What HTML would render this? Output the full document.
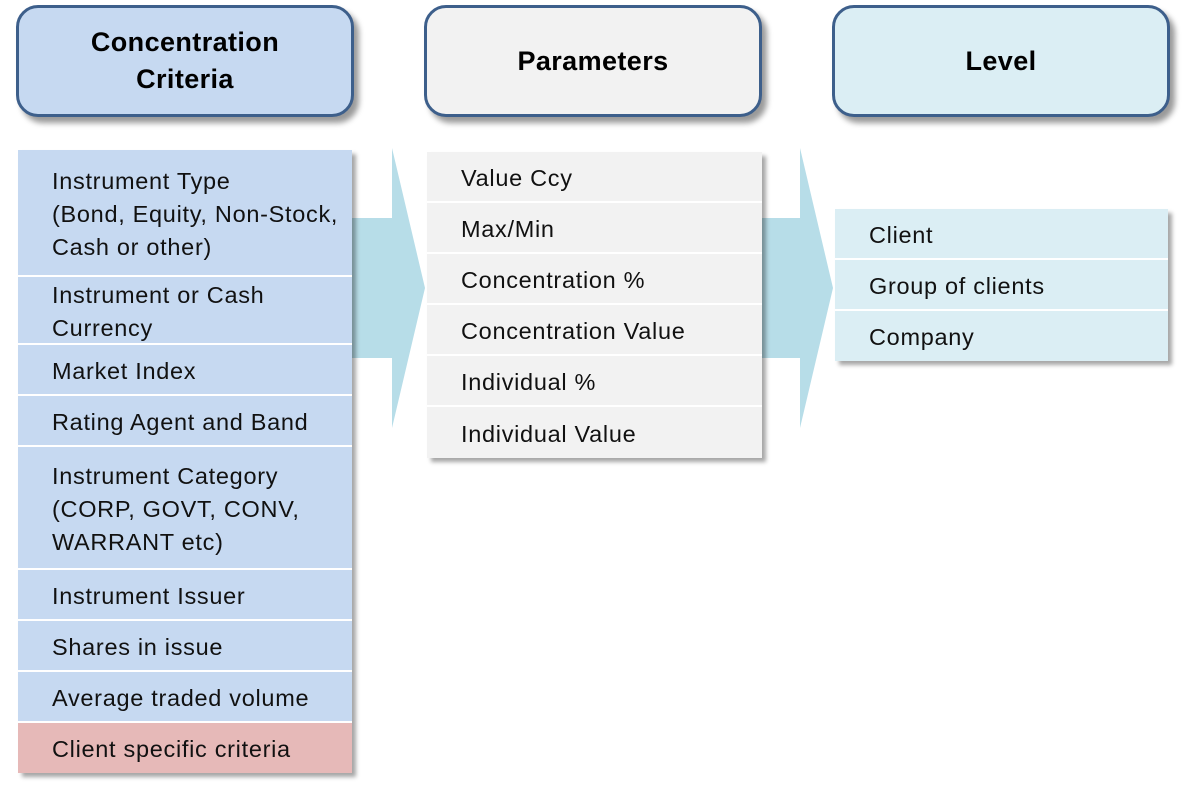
<!DOCTYPE html>
<html><head><meta charset="utf-8"><style>
body{margin:0;width:1203px;height:786px;background:#fff;position:relative;overflow:hidden;font-family:"Liberation Sans",sans-serif;}
.hd{position:absolute;top:5px;height:106px;border:3px solid #3d5f8b;border-radius:22px;box-shadow:5px 6px 6px rgba(0,0,0,0.4);display:flex;align-items:center;justify-content:center;text-align:center;font-weight:bold;font-size:27px;letter-spacing:0.4px;line-height:37px;color:#000;}
.list{position:absolute;box-shadow:4px 4px 4px rgba(0,0,0,0.35);}
.r{border-bottom:2px solid #fff;box-sizing:border-box;padding-left:34px;padding-top:3px;font-size:23.5px;letter-spacing:0.7px;line-height:33px;color:#111;display:flex;align-items:center;white-space:nowrap;}
.r:last-child{border-bottom:none}
.a{position:absolute;}
</style></head><body>
<div class="hd" style="left:16px;width:332px;background:#c6d9f1">Concentration<br>Criteria</div>
<div class="hd" style="left:424px;width:332px;background:#f2f2f2">Parameters</div>
<div class="hd" style="left:832px;width:332px;background:#dbeef4">Level</div>

<svg class="a" style="left:0;top:0" width="1203" height="786">
<polygon points="352,218 392,218 392,148 425,288 392,428 392,358 352,358" fill="#b7dde8"/>
<polygon points="762,218 800,218 800,148 833,288 800,428 800,358 762,358" fill="#b7dde8"/>
</svg>

<div class="list" style="left:18px;top:150px;width:334px;background:#c6d9f1">
<div class="r" style="height:127px">Instrument Type<br>(Bond, Equity, Non-Stock,<br>Cash or other)</div>
<div class="r" style="height:68px">Instrument or Cash<br>Currency</div>
<div class="r" style="height:51px">Market Index</div>
<div class="r" style="height:51px">Rating Agent and Band</div>
<div class="r" style="height:123px">Instrument Category<br>(CORP, GOVT, CONV,<br>WARRANT etc)</div>
<div class="r" style="height:51px">Instrument Issuer</div>
<div class="r" style="height:51px">Shares in issue</div>
<div class="r" style="height:51px">Average traded volume</div>
<div class="r" style="height:50px;background:#e6b9b8">Client specific criteria</div>
</div>

<div class="list" style="left:427px;top:152px;width:335px;background:#f2f2f2">
<div class="r" style="height:51px">Value Ccy</div>
<div class="r" style="height:51px">Max/Min</div>
<div class="r" style="height:51px">Concentration %</div>
<div class="r" style="height:51px">Concentration Value</div>
<div class="r" style="height:51px">Individual %</div>
<div class="r" style="height:51px">Individual Value</div>
</div>

<div class="list" style="left:835px;top:209px;width:333px;background:#dbeef4">
<div class="r" style="height:51px">Client</div>
<div class="r" style="height:51px">Group of clients</div>
<div class="r" style="height:50px">Company</div>
</div>
</body></html>
